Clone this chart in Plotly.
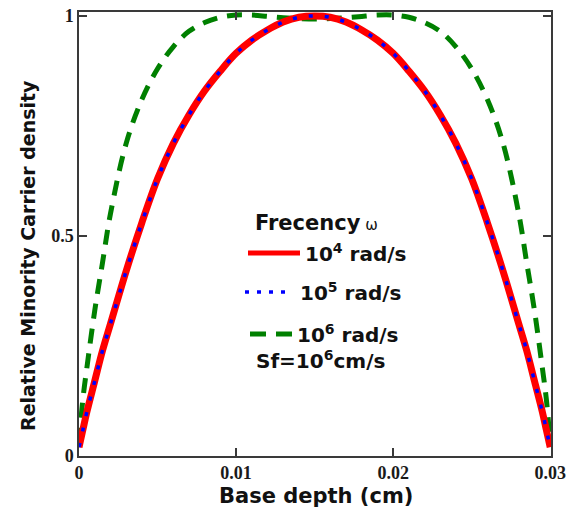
import plotly.graph_objects as go

# Base depth (cm)
depth = [0.0, 0.00025, 0.0005, 0.001, 0.0015, 0.002, 0.003, 0.004, 0.005, 0.006, 0.007,
         0.008, 0.009, 0.010, 0.011, 0.012, 0.013, 0.014, 0.015,
         0.016, 0.017, 0.018, 0.019, 0.020, 0.021, 0.022, 0.023, 0.024, 0.025,
         0.026, 0.027, 0.028, 0.0285, 0.029, 0.0295, 0.02975, 0.03]

# omega = 1e4 rad/s
rho_1e4 = [0.02, 0.06, 0.10, 0.17, 0.24, 0.30, 0.42, 0.53, 0.63, 0.71, 0.775,
           0.83, 0.875, 0.915, 0.945, 0.968, 0.986, 0.997, 1.0,
           0.997, 0.986, 0.968, 0.945, 0.915, 0.875, 0.83, 0.775, 0.71, 0.63,
           0.53, 0.42, 0.30, 0.24, 0.17, 0.10, 0.06, 0.02]

# omega = 1e5 rad/s
rho_1e5 = [0.02, 0.06, 0.10, 0.17, 0.24, 0.30, 0.42, 0.53, 0.63, 0.71, 0.775,
           0.83, 0.875, 0.915, 0.945, 0.968, 0.986, 0.997, 1.0,
           0.997, 0.986, 0.968, 0.945, 0.915, 0.875, 0.83, 0.775, 0.71, 0.63,
           0.53, 0.42, 0.30, 0.24, 0.17, 0.10, 0.06, 0.02]

# omega = 1e6 rad/s
rho_1e6 = [0.03, 0.13, 0.20, 0.33, 0.44, 0.55, 0.71, 0.81, 0.88, 0.93, 0.965,
           0.985, 0.997, 1.002, 1.002, 0.999, 0.996, 0.994, 0.993,
           0.994, 0.996, 0.999, 1.002, 1.002, 0.997, 0.985, 0.965, 0.93, 0.88,
           0.81, 0.71, 0.55, 0.44, 0.33, 0.20, 0.13, 0.03]

x_ticks = [0, 0.01, 0.02, 0.03]
x_ticklabels = ["0", "0.01", "0.02", "0.03"]
y_ticks = [0, 0.5, 1]
y_ticklabels = ["0", "0.5", "1"]

fig = go.Figure()
fig.add_trace(go.Scatter(x=depth, y=rho_1e6, mode="lines", line_shape="spline",
                         line=dict(color="#008000", width=5, dash="15px,10px"), name="10^6"))
fig.add_trace(go.Scatter(x=depth, y=rho_1e4, mode="lines", line_shape="spline",
                         line=dict(color="#ff0000", width=7), name="10^4"))
fig.add_trace(go.Scatter(x=depth, y=rho_1e5, mode="lines", line_shape="spline",
                         line=dict(color="#0000ff", width=3.5, dash="4px,12px"), name="10^5"))

W, H = 571, 513
L, R, T, B = 79, 20, 12, 57
pw, ph = W - L - R, H - T - B

def px(x):
    return (x - L) / pw

def py(y):
    return (H - B - y) / ph

tickfont = dict(family="Liberation Serif", size=18, color="#1a1a1a", weight="bold")
axis_common = dict(showline=True, linecolor="#3a3a3a", linewidth=1.5, mirror="ticks",
                   ticks="inside", ticklen=8, tickwidth=1.5, tickcolor="#3a3a3a",
                   showgrid=False, zeroline=False, tickfont=tickfont, automargin=False)

fig.update_layout(
    width=W, height=H,
    margin=dict(l=L, r=R, t=T, b=B),
    paper_bgcolor="white", plot_bgcolor="white",
    showlegend=False,
    xaxis=dict(range=[0, 0.03005], tickvals=x_ticks, ticktext=x_ticklabels, **axis_common),
    yaxis=dict(range=[0, 1.009], tickvals=y_ticks, ticktext=y_ticklabels, **axis_common),
)

lab = dict(family="DejaVu Sans", size=20, color="#111111", weight="bold")

# legend samples
fig.add_shape(type="line", xref="paper", yref="paper", x0=px(248), x1=px(300), y0=py(253), y1=py(253),
              line=dict(color="#ff0000", width=5))
fig.add_shape(type="line", xref="paper", yref="paper", x0=px(245), x1=px(293), y0=py(292), y1=py(292),
              line=dict(color="#0000ff", width=3.5, dash="4px,8px"))
fig.add_shape(type="line", xref="paper", yref="paper", x0=px(250), x1=px(292), y0=py(334), y1=py(334),
              line=dict(color="#008000", width=5, dash="16px,10px"))

fig.add_annotation(xref="paper", yref="paper", x=px(253), y=py(223), xanchor="left", yanchor="middle",
                   text="Frecency<span style='font-size:15px;font-weight:normal'> ω</span>", showarrow=False,
                   font=dict(family="DejaVu Sans", size=21, color="#111111", weight="bold"))
fig.add_annotation(xref="paper", yref="paper", x=px(303), y=py(253), xanchor="left", yanchor="middle",
                   text="10<sup>4</sup> rad/s", showarrow=False, font=lab)
fig.add_annotation(xref="paper", yref="paper", x=px(298), y=py(292), xanchor="left", yanchor="middle",
                   text="10<sup>5</sup> rad/s", showarrow=False, font=lab)
fig.add_annotation(xref="paper", yref="paper", x=px(295), y=py(334), xanchor="left", yanchor="middle",
                   text="10<sup>6</sup> rad/s", showarrow=False, font=lab)
fig.add_annotation(xref="paper", yref="paper", x=px(254), y=py(360), xanchor="left", yanchor="middle",
                   text="Sf=10<sup>6</sup>cm/s", showarrow=False, font=lab)

# axis titles
fig.add_annotation(xref="paper", yref="paper", x=px(316), y=py(496), xanchor="center", yanchor="middle",
                   text="Base depth (cm)", showarrow=False,
                   font=dict(family="DejaVu Sans", size=21, color="#111111", weight="bold"))
fig.add_annotation(xref="paper", yref="paper", x=px(28), y=py(256), xanchor="center", yanchor="middle",
                   text="Relative Minority Carrier density", showarrow=False, textangle=-90,
                   font=dict(family="DejaVu Sans", size=19, color="#111111", weight="bold"))

fig.write_html("out.html")
